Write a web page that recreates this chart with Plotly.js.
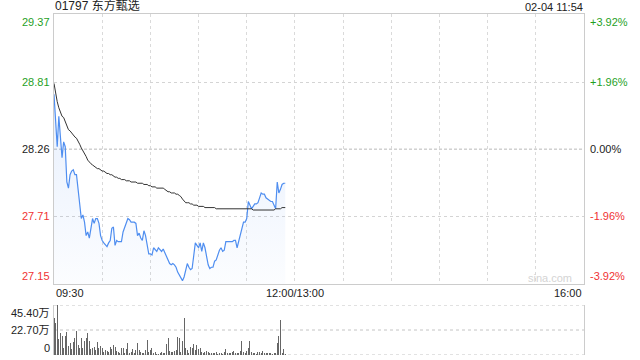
<!DOCTYPE html>
<html><head><meta charset="utf-8">
<script src="https://cdn.plot.ly/plotly-3.0.1.min.js"></script>
<style>html,body{margin:0;padding:0;background:#fff}#chart{width:640px;height:360px}</style>
</head><body><div id="chart"></div>
<script>
const stockTitle = "01797 东方甄选";
const stamp = "02-04 11:54";
const prevClose = 28.26;
const priceTicks = [29.37, 28.81, 28.26, 27.71, 27.15];
const pctTicks = ["+3.92%", "+1.96%", "0.00%", "-1.96%", "-3.92%"];
const volTicks = [45.40, 22.70, 0];
const volTickText = ["45.40万", "22.70万", "0"];
const sessionMinutes = 330;
const timeTicks = [0, 150, 330];
const timeLabels = ["09:30", "12:00/13:00", "16:00"];
const watermark = "sina.com";

const price = [
 28.71, 28.49, 28.28, 28.53, 28.32, 28.19, 28.32, 28.28, 27.99, 27.94,
 28.05, 28.08, 28.09, 28.05, 28.05, 27.91, 27.77, 27.69, 27.72, 27.66,
 27.55, 27.58, 27.53, 27.62, 27.69, 27.65, 27.69, 27.69, 27.65, 27.55,
 27.51, 27.49, 27.47, 27.46, 27.49, 27.51, 27.61, 27.62, 27.47, 27.51,
 27.50, 27.50, 27.50, 27.58, 27.62, 27.65, 27.69, 27.68, 27.66, 27.66,
 27.66, 27.65, 27.55, 27.57, 27.53, 27.51, 27.59, 27.55, 27.46, 27.40,
 27.40, 27.39, 27.45, 27.43, 27.42, 27.45, 27.43, 27.42, 27.44, 27.41,
 27.39, 27.35, 27.32, 27.31, 27.32, 27.31, 27.29, 27.25, 27.23, 27.21,
 27.18, 27.21, 27.27, 27.32, 27.29, 27.27, 27.28, 27.38, 27.49, 27.47,
 27.45, 27.49, 27.42, 27.49, 27.45, 27.38, 27.31, 27.28, 27.29, 27.29,
 27.34, 27.35, 27.39, 27.43, 27.45, 27.42, 27.43, 27.50, 27.50, 27.50,
 27.50, 27.50, 27.51, 27.51, 27.45, 27.50, 27.55, 27.62, 27.66, 27.66,
 27.69, 27.83, 27.80, 27.77, 27.79, 27.81, 27.81, 27.82, 27.86, 27.90,
 27.89, 27.89, 27.86, 27.85, 27.84, 27.83, 27.83, 27.80, 27.77, 27.99,
 27.90, 27.93, 27.97, 27.98, 27.98
];
const avgPrice = [
 28.80, 28.72, 28.65, 28.60, 28.56, 28.53, 28.52, 28.49, 28.45, 28.42,
 28.41, 28.39, 28.38, 28.36, 28.35, 28.33, 28.30, 28.27, 28.25, 28.23,
 28.20, 28.17, 28.15, 28.14, 28.13, 28.12, 28.11, 28.10, 28.10, 28.09,
 28.08, 28.08, 28.07, 28.06, 28.06, 28.05, 28.05, 28.04, 28.03, 28.03,
 28.02, 28.02, 28.01, 28.01, 28.01, 28.00, 28.00, 28.00, 27.99, 27.99,
 27.99, 27.99, 27.98, 27.98, 27.98, 27.98, 27.97, 27.97, 27.97, 27.96,
 27.96, 27.95, 27.95, 27.95, 27.94, 27.94, 27.94, 27.94, 27.94, 27.93,
 27.92, 27.91, 27.91, 27.90, 27.90, 27.90, 27.89, 27.89, 27.88, 27.87,
 27.85, 27.83, 27.82, 27.82, 27.82, 27.81, 27.81, 27.80, 27.80, 27.80,
 27.79, 27.79, 27.79, 27.79, 27.78, 27.78, 27.78, 27.78, 27.78, 27.78,
 27.78, 27.77, 27.77, 27.77, 27.77, 27.77, 27.77, 27.77, 27.77, 27.77,
 27.77, 27.77, 27.77, 27.77, 27.77, 27.77, 27.77, 27.77, 27.77, 27.77,
 27.77, 27.77, 27.77, 27.77, 27.76, 27.76, 27.76, 27.76, 27.76, 27.76,
 27.76, 27.76, 27.76, 27.76, 27.76, 27.76, 27.76, 27.76, 27.77, 27.77,
 27.77, 27.77, 27.78, 27.78, 27.78
];
// volume in 万 shares
const volume = [
 33.3, 29.4, 45.4, 14.2, 20.3, 17.3, 6.1, 17.3, 21.2, 8.2,
 10.6, 5.1, 12.1, 15.1, 22.1, 9.1, 6.1, 15.7, 6.7, 13.0,
 15.7, 20.3, 13.0, 5.1, 6.7, 7.6, 4.5, 12.1, 6.1, 8.5,
 6.7, 3.0, 4.5, 3.9, 3.0, 7.6, 5.1, 9.1, 7.6, 3.9,
 3.0, 2.1, 6.7, 6.7, 2.1, 5.1, 11.2, 1.5, 2.4, 5.1,
 2.1, 4.5, 11.2, 4.5, 3.0, 1.5, 2.1, 4.5, 13.6, 3.0,
 4.5, 6.1, 2.1, 3.0, 0.9, 0.9, 2.1, 3.0, 2.1, 1.5,
 10.0, 15.7, 3.9, 3.0, 3.0, 3.9, 4.5, 16.6, 15.7, 3.0,
 13.0, 33.9, 6.1, 4.5, 2.1, 7.6, 6.1, 10.0, 4.5, 9.1,
 5.1, 6.7, 3.0, 2.1, 3.0, 3.9, 3.0, 1.5, 1.5, 2.1,
 1.5, 3.0, 0.9, 2.1, 1.5, 0.9, 3.0, 5.1, 1.5, 2.1,
 2.1, 3.0, 3.9, 2.1, 1.5, 2.1, 3.9, 12.7, 3.0, 2.1,
 3.9, 6.1, 12.7, 3.0, 1.5, 2.1, 0.9, 3.0, 3.0, 2.1,
 3.6, 1.5, 2.1, 2.1, 1.5, 2.1, 0.9, 2.1, 1.5, 10.6,
 17.3, 31.8, 2.1, 5.1, 0.9
];
const minuteIdx = price.map((_, i) => i);

const FONT = 'Arial, "Liberation Sans", "Noto Sans CJK SC", sans-serif';
const GREEN = '#1f9f1f', RED = '#f03333', BLACK = '#222';
const yMin = Math.min(...priceTicks), yMax = Math.max(...priceTicks);
const colorFor = v => v > prevClose ? GREEN : (v < prevClose ? RED : BLACK);

const traces = [
  { x: minuteIdx, y: price, type: 'scatter', mode: 'lines', xaxis: 'x', yaxis: 'y',
    line: { color: '#4f8ef0', width: 1.2 }, fill: 'tozeroy',
    fillgradient: { type: 'vertical', start: yMin, stop: yMax,
      colorscale: [[0, 'rgba(80,140,240,0.02)'], [1, 'rgba(80,140,240,0.18)']] },
    hoverinfo: 'skip' },
  { x: minuteIdx, y: avgPrice, type: 'scatter', mode: 'lines', xaxis: 'x', yaxis: 'y',
    line: { color: '#333', width: 1 }, hoverinfo: 'skip' },
  { x: minuteIdx, y: volume, type: 'bar', xaxis: 'x2', yaxis: 'y2',
    marker: { color: '#666', line: { width: 0 } }, width: 0.62, hoverinfo: 'skip' }
];

const plotTop = 14, plotBot = 5, H = 360;
const inner = H - plotTop - plotBot;
const mainBottomPx = 284.3, volTopPx = 305;
const mainDomain = [(H - plotBot - mainBottomPx) / inner, 1];
const volDomain = [0, (H - plotBot - volTopPx) / inner];

const gridTicks = [];
for (let t = 0; t <= sessionMinutes; t += 30) gridTicks.push(t);

const annotations = [];
priceTicks.forEach((v, i) => {
  const anchor = v === yMax ? 'top' : (v === yMin ? 'bottom' : 'middle');
  annotations.push({ xref: 'paper', yref: 'y', x: 0, y: v, xanchor: 'right', yanchor: anchor,
    xshift: -2, text: v.toFixed(2), showarrow: false,
    font: { family: FONT, size: 11, color: colorFor(v) } });
  annotations.push({ xref: 'paper', yref: 'y', x: 1, y: v, xanchor: 'left', yanchor: anchor,
    xshift: 4, text: pctTicks[i], showarrow: false,
    font: { family: FONT, size: 11, color: colorFor(v) } });
});
volTicks.forEach((v, i) => {
  const anchor = i === 0 ? 'top' : (v === 0 ? 'bottom' : 'middle');
  annotations.push({ xref: 'paper', yref: 'y2', x: 0, y: v, xanchor: 'right', yanchor: anchor,
    xshift: -2, yshift: v === 0 ? -1 : 0, text: volTickText[i], showarrow: false,
    font: { family: FONT, size: 11, color: '#222' } });
});
timeTicks.forEach((t, i) => {
  const xa = i === 0 ? 'left' : (i === timeTicks.length - 1 ? 'right' : 'center');
  annotations.push({ xref: 'x', yref: 'y', x: t, y: yMin, xanchor: xa, yanchor: 'top',
    yshift: -1, text: timeLabels[i], showarrow: false,
    font: { family: FONT, size: 11, color: '#222' } });
});
annotations.push({ xref: 'paper', yref: 'paper', x: 0, y: 1, xanchor: 'left', yanchor: 'bottom',
  xshift: -1, yshift: -1, text: stockTitle, showarrow: false,
  font: { family: FONT, size: 12, color: '#222' } });
annotations.push({ xref: 'paper', yref: 'paper', x: 1, y: 1, xanchor: 'right', yanchor: 'bottom',
  xshift: 1, yshift: -1, text: stamp, showarrow: false,
  font: { family: FONT, size: 11, color: '#222' } });
annotations.push({ xref: 'paper', yref: 'y', x: 1, y: yMin, xanchor: 'right', yanchor: 'bottom',
  xshift: -10, yshift: -2, text: watermark, showarrow: false,
  font: { family: FONT, size: 11, color: '#d4d4d4' } });

const shapes = [
  { type: 'line', xref: 'paper', yref: 'y', x0: 0, x1: 1, y0: prevClose, y1: prevClose,
    line: { color: '#b8b8b8', width: 1, dash: '3px,2px' }, layer: 'below' }
];
volTicks.forEach(v => {
  shapes.push({ type: 'line', xref: 'x2', yref: 'y2', x0: 0, x1: sessionMinutes, y0: v, y1: v,
    line: { color: '#c4c4c4', width: 1, dash: 'dot' }, layer: 'below' });
});

const layout = {
  width: 640, height: 360,
  margin: { l: 54, r: 56, t: plotTop, b: plotBot, pad: 0 },
  paper_bgcolor: '#fff', plot_bgcolor: 'rgba(0,0,0,0)',
  showlegend: false, bargap: 0,
  xaxis: { domain: [0, 1], range: [0, sessionMinutes], anchor: 'y', tickvals: gridTicks,
    showticklabels: false, ticks: '', showgrid: true, gridcolor: '#dadada', griddash: 'dot', gridwidth: 1,
    showline: true, linecolor: '#cccccc', linewidth: 1, mirror: true, zeroline: false, fixedrange: true },
  yaxis: { domain: mainDomain, range: [yMin, yMax], anchor: 'x',
    tickvals: priceTicks.filter(v => v !== prevClose),
    showticklabels: false, ticks: '', showgrid: true, gridcolor: '#d4d4d4', griddash: 'dot', gridwidth: 1,
    showline: true, linecolor: '#cccccc', linewidth: 1, mirror: true, zeroline: false, fixedrange: true },
  xaxis2: { domain: [0, 1], range: [0, sessionMinutes], anchor: 'y2', showticklabels: false, ticks: '',
    showgrid: false, showline: false, zeroline: false, fixedrange: true },
  yaxis2: { domain: volDomain, range: [0, Math.max(...volTicks)], anchor: 'x2',
    showticklabels: false, ticks: '', showgrid: false,
    showline: true, linecolor: '#cccccc', linewidth: 1, mirror: true, zeroline: false, fixedrange: true },
  shapes: shapes,
  annotations: annotations
};

Plotly.newPlot('chart', traces, layout, { staticPlot: true, displayModeBar: false });
</script>
</body></html>
